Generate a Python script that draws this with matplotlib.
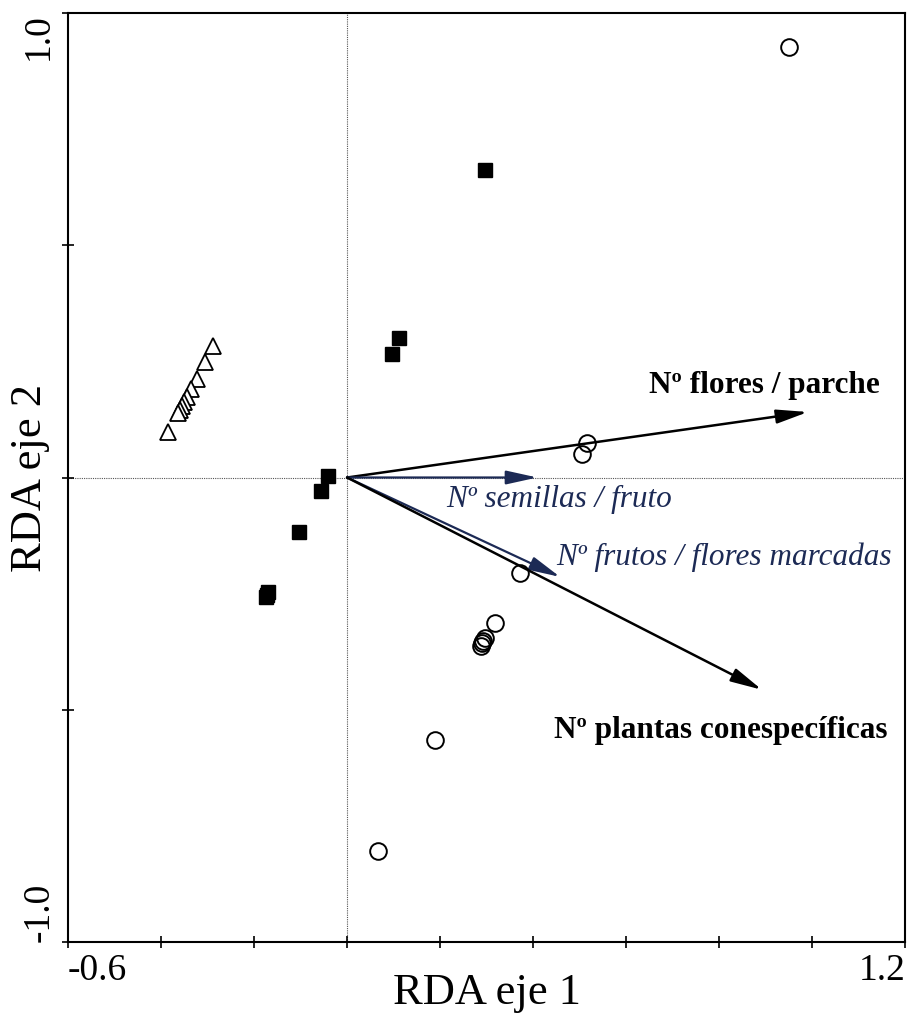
import matplotlib.pyplot as plt
import numpy as np

plt.rcParams['font.family'] = ['Liberation Serif', 'DejaVu Serif']

# site scores, group 1 (open circles)
circ_x = [0.950, 0.516, 0.505, 0.372, 0.318, 0.296, 0.293, 0.291, 0.288, 0.189, 0.067]
circ_y = [0.927, 0.074, 0.051, -0.206, -0.313, -0.345, -0.351, -0.357, -0.363, -0.565, -0.804]

# site scores, group 2 (filled squares)
sq_x = [0.297, 0.112, 0.097, -0.041, -0.056, -0.103, -0.170, -0.172, -0.174]
sq_y = [0.662, 0.300, 0.266, 0.003, -0.029, -0.117, -0.247, -0.252, -0.257]

# site scores, group 3 (open triangles)
tri_x = [-0.288, -0.305, -0.323, -0.335, -0.344, -0.351, -0.355, -0.359, -0.363, -0.385]
tri_y = [0.283, 0.249, 0.212, 0.191, 0.173, 0.163, 0.154, 0.145, 0.139, 0.098]

# explanatory variables (biplot arrows)
var_names = ['Nº flores / parche', 'Nº semillas / fruto',
             'Nº frutos / flores marcadas', 'Nº plantas conespecíficas']
var_x = [0.991, 0.409, 0.458, 0.892]
var_y = [0.141, 0.0, -0.214, -0.457]

navy = '#1c2a55'
var_color = ['black', navy, navy, 'black']
var_style = ['normal', 'italic', 'italic', 'normal']
var_weight = ['bold', 'normal', 'normal', 'bold']
var_lw = [1.8, 1.6, 1.6, 1.8]
# label anchor (data coords) and alignment
var_lab = [(1.146, 0.199, 'right'), (0.213, -0.048, 'left'),
           (0.450, -0.171, 'left'), (1.163, -0.544, 'right')]

fig = plt.figure(figsize=(9.07, 10.15), dpi=100)
ax = fig.add_axes([0.075, 0.0719, 0.923, 0.9153])

ax.axhline(0, color='#555555', lw=0.8, ls=(0, (1, 1)), zorder=1)
ax.axvline(0, color='#555555', lw=0.8, ls=(0, (1, 1)), zorder=1)

ax.plot(circ_x, circ_y, 'o', mfc='none', mec='black', mew=1.4, ms=12, zorder=3)
ax.plot(sq_x, sq_y, 's', mfc='black', mec='black', ms=9.5, zorder=3)
ax.plot(tri_x, tri_y, '^', mfc='white', mec='black', mew=1.3, ms=11.5, zorder=3)

for i in range(len(var_names)):
    ax.annotate('', xy=(var_x[i], var_y[i]), xytext=(0, 0),
                arrowprops=dict(arrowstyle='-|>,head_length=1.9,head_width=0.42',
                                color=var_color[i], lw=var_lw[i],
                                shrinkA=0, shrinkB=0), zorder=2)
    lx, ly, ha = var_lab[i]
    ax.text(lx, ly, var_names[i], ha=ha, va='center', fontsize=22.5,
            color=var_color[i], style=var_style[i], fontweight=var_weight[i])

ax.set_xlim(-0.6, 1.2)
ax.set_ylim(-1.0, 1.0)

xt = np.round(np.arange(-0.6, 1.21, 0.2), 1)
ax.set_xticks(xt)
ax.set_xticklabels([('%.1f' % v) if v in (-0.6, 1.2) else '' for v in xt], fontsize=27)
yt = [-1.0, -0.5, 0.0, 0.5, 1.0]
ax.set_yticks(yt)
ax.set_yticklabels([('%.1f' % v) if abs(v) == 1.0 else '' for v in yt], fontsize=27,
                   rotation=90, va='center')
ax.tick_params(direction='inout', length=9, width=1.2, pad=4)
ax.get_xticklabels()[0].set_ha('left')
ax.get_xticklabels()[-1].set_ha('right')
ax.get_yticklabels()[0].set_va('bottom')
ax.get_yticklabels()[-1].set_va('top')

for s in ax.spines.values():
    s.set_linewidth(1.5)

# axis titles placed in figure coords
fig.text(487 / 907, 1 - 993 / 1015, 'RDA eje 1', fontsize=32, ha='center', va='center')
fig.text(30 / 907, 1 - 478 / 1015, 'RDA eje 2', fontsize=32, ha='center', va='center',
         rotation=90)

fig.savefig('out.png', dpi=100)
